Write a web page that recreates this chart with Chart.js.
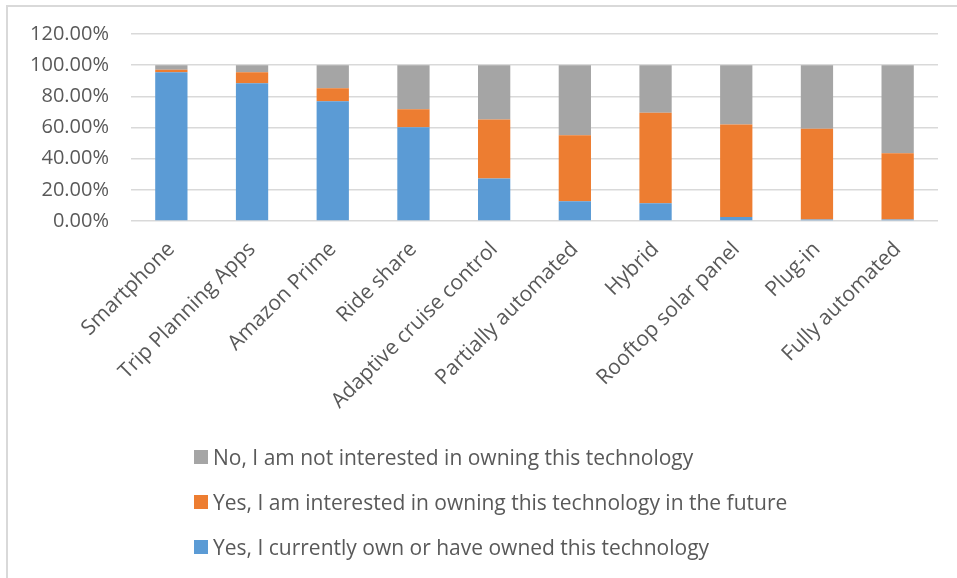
<!DOCTYPE html>
<html>
<head>
<meta charset="utf-8">
<script src="https://cdn.jsdelivr.net/npm/chart.js@4/dist/chart.umd.min.js"></script>
<style>
  html, body { margin: 0; padding: 0; background: #ffffff; }
  #wrap { position: relative; width: 957px; height: 578px; overflow: hidden; }
  #frame { position: absolute; left: 6px; top: 5px; width: 1000px; height: 600px;
           border-left: 2px solid #d9d9d9; border-top: 2px solid #d9d9d9; box-sizing: border-box; }
  #chart { position: absolute; left: 0; top: 0; }
  #legend { position: absolute; left: 194px; top: 443px; margin: 0; padding: 0; list-style: none;
            font-family: "Open Sans", "Liberation Sans", sans-serif; font-size: 21px; color: #595959; }
  #legend li { height: 45px; line-height: 28px; display: flex; align-items: flex-start; white-space: nowrap; }
  #legend .sw { display: inline-block; width: 14px; height: 14px; margin: 7px 5px 0 0; flex: none; }
</style>
</head>
<body>
<div id="wrap">
  <div id="frame"></div>
  <canvas id="chart" width="957" height="578"></canvas>
  <ul id="legend"></ul>
</div>
<script>
// Survey categories (technologies)
const categories = [
  'Smartphone', 'Trip Planning Apps', 'Amazon Prime', 'Ride share',
  'Adaptive cruise control', 'Partially automated', 'Hybrid',
  'Rooftop solar panel', 'Plug-in', 'Fully automated'
];

// Share of respondents, in percent
const ownedValues      = [95.5, 88.4, 76.8, 60.1, 27.3, 12.7, 11.4, 2.6, 1.0, 0.9];
const interestedValues = [1.5, 7.1, 8.4, 11.6, 37.9, 42.3, 58.1, 59.4, 58.2, 42.5];
const notInterested    = [3.0, 4.5, 14.8, 28.3, 34.8, 45.0, 30.5, 38.0, 40.8, 56.6];

const seriesNames = [
  'Yes, I currently own or have owned this technology',
  'Yes, I am interested in owning this technology in the future',
  'No, I am not interested in owning this technology'
];

// Y axis ticks (percent)
const yTicks = [0, 20, 40, 60, 80, 100, 120];

const textColor = '#595959';
const gridColor = '#d9d9d9';
const colors = ['#5b9bd5', '#ed7d31', '#a5a5a5'];
const fontFamily = '"Open Sans", "Liberation Sans", sans-serif';

const data = {
  labels: categories,
  datasets: [ownedValues, interestedValues, notInterested].map((vals, i) => ({
    label: seriesNames[i],
    data: vals,
    backgroundColor: colors[i],
    borderWidth: 0,
    barPercentage: 0.4,
    categoryPercentage: 1.0
  }))
};

const chart = new Chart(document.getElementById('chart'), {
  type: 'bar',
  data,
  options: {
    responsive: false,
    animation: false,
    layout: { padding: { top: 34, right: 19, left: 0, bottom: 0 } },
    plugins: {
      legend: { display: false },
      tooltip: { enabled: false }
    },
    scales: {
      x: {
        stacked: true,
        grid: { display: false, drawTicks: false },
        border: { display: false },
        ticks: {
          color: textColor,
          font: { family: fontFamily, size: 21 },
          minRotation: 45,
          maxRotation: 45,
          padding: 16,
          autoSkip: false
        },
        afterFit: (s) => { s.height = 357; }
      },
      y: {
        stacked: true,
        min: yTicks[0],
        max: yTicks[yTicks.length - 1],
        afterBuildTicks: (s) => { s.ticks = yTicks.map(v => ({ value: v })); },
        grid: { color: gridColor, lineWidth: 1.5, drawTicks: false },
        border: { display: false },
        ticks: {
          color: textColor,
          font: { family: fontFamily, size: 20 },
          padding: 22,
          callback: (v) => Number(v).toFixed(2) + '%'
        },
        afterFit: (s) => { s.width = 131; }
      }
    }
  }
});

// Legend list, top series first
const legend = document.getElementById('legend');
chart.data.datasets.slice().reverse().forEach(ds => {
  const li = document.createElement('li');
  const sw = document.createElement('span');
  sw.className = 'sw';
  sw.style.background = ds.backgroundColor;
  li.appendChild(sw);
  li.appendChild(document.createTextNode(ds.label));
  legend.appendChild(li);
});
</script>
</body>
</html>
